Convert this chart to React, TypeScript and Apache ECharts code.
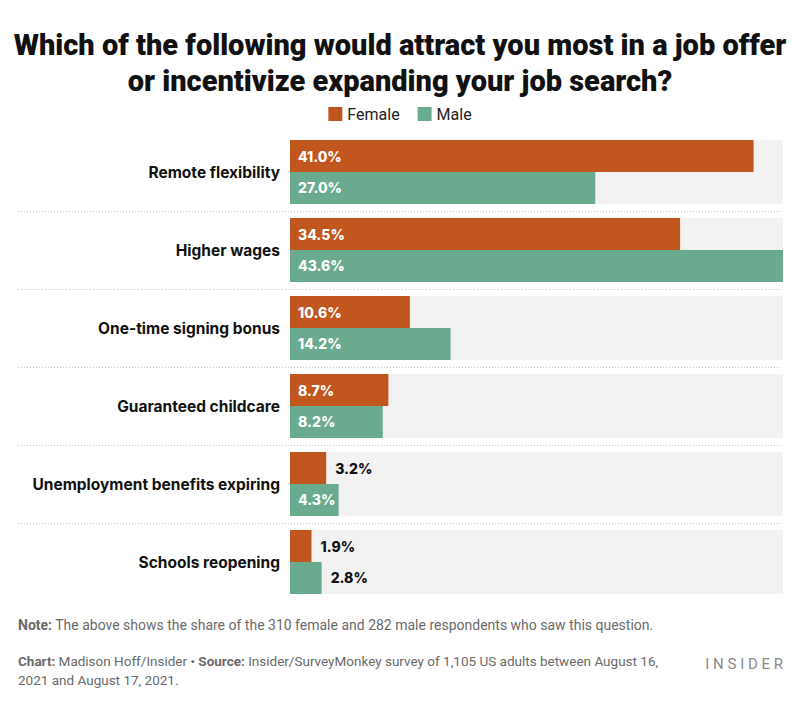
import React, { useEffect, useRef } from "react";
import * as echarts from "echarts";

const categories = [
  "Remote flexibility",
  "Higher wages",
  "One-time signing bonus",
  "Guaranteed childcare",
  "Unemployment benefits expiring",
  "Schools reopening",
];
const femaleValues = [41.0, 34.5, 10.6, 8.7, 3.2, 1.9];
const maleValues = [27.0, 43.6, 14.2, 8.2, 4.3, 2.8];
const seriesNames = ["Female", "Male"];
const titleText =
  "Which of the following would attract you most in a job offer\nor incentivize expanding your job search?";
const noteText =
  "The above shows the share of the 310 female and 282 male respondents who saw this question.";
const chartCredit = "Madison Hoff/Insider";
const sourceLine1 = "Insider/SurveyMonkey survey of 1,105 US adults between August 16,";
const sourceLine2 = "2021 and August 17, 2021.";

const FEMALE = "#c1561f";
const MALE = "#6aaa8e";
const BG = "#f2f2f2";

function makeData(values: number[]) {
  return values.map((v) => {
    const inside = v >= 4;
    return {
      value: v,
      label: inside
        ? { position: "insideLeft", color: "#ffffff", distance: 8 }
        : { position: "right", color: "#111111", distance: 9 },
    };
  });
}

export default function App() {
  const ref = useRef<HTMLDivElement>(null);
  useEffect(() => {
    if (!ref.current) return;
    document.body.style.margin = "0";
    const chart = echarts.init(ref.current, null, { renderer: "svg" });
    const labelCommon = {
      show: true,
      formatter: (p: any) => p.value.toFixed(1) + "%",
      fontFamily: "Inter",
      fontWeight: 800,
      fontSize: 14,
    };
    chart.setOption({
      animation: false,
      backgroundColor: "#ffffff",
      title: {
        text: titleText,
        left: "center",
        top: 22,
        textStyle: {
          fontFamily: "Roboto",
          fontWeight: 900,
          fontSize: 29,
          lineHeight: 36,
          color: "#111111",
        },
      },
      legend: {
        top: 101,
        left: "center",
        icon: "rect",
        itemWidth: 14,
        itemHeight: 14,
        itemGap: 18,
        textStyle: { fontFamily: "Roboto", fontSize: 16, color: "#222" },
        data: seriesNames,
      },
      grid: { left: 290, right: 17, top: 133, height: 468 },
      xAxis: { type: "value", min: 0, max: 43.6, show: false },
      yAxis: {
        type: "category",
        data: categories,
        inverse: true,
        axisLine: { show: false },
        axisTick: { show: false },
        axisLabel: {
          margin: 10,
          fontFamily: "Inter",
          fontWeight: 700,
          fontSize: 15.5,
          color: "#111111",
        },
      },
      series: [
        {
          name: seriesNames[0],
          type: "bar",
          data: makeData(femaleValues),
          itemStyle: { color: FEMALE },
          barGap: "0%",
          barCategoryGap: "18%",
          showBackground: true,
          backgroundStyle: { color: BG },
          label: labelCommon,
        },
        {
          name: seriesNames[1],
          type: "bar",
          data: makeData(maleValues),
          itemStyle: { color: MALE },
          barGap: "0%",
          barCategoryGap: "18%",
          showBackground: true,
          backgroundStyle: { color: BG },
          label: labelCommon,
        },
      ],
    });

    const seps: any[] = [];
    for (let i = 0; i < categories.length - 1; i++) {
      const a = chart.convertToPixel({ yAxisIndex: 0 }, categories[i]) as number;
      const b = chart.convertToPixel({ yAxisIndex: 0 }, categories[i + 1]) as number;
      const y = Math.round((a + b) / 2) + 0.5;
      seps.push({
        type: "line",
        shape: { x1: 18, y1: y, x2: 783, y2: y },
        style: { stroke: "#c8c8c8", lineWidth: 1, lineDash: [1, 2] },
      });
    }
    const footFont = "Roboto";
    seps.push(
      {
        type: "text",
        left: 18,
        top: 618,
        style: {
          text: "{b|Note:} " + noteText,
          fontFamily: footFont,
          fontSize: 14,
          fill: "#6a6a6a",
          rich: { b: { fontWeight: 700, fontFamily: footFont, fontSize: 14, fill: "#6a6a6a" } },
        },
      },
      {
        type: "text",
        left: 18,
        top: 651,
        style: {
          text:
            "{b|Chart:} " + chartCredit + " \u2022 {b|Source:} " + sourceLine1 + "\n" + sourceLine2,
          fontFamily: footFont,
          fontSize: 13.5,
          lineHeight: 19,
          fill: "#6a6a6a",
          rich: { b: { fontWeight: 700, fontFamily: footFont, fontSize: 13.5, fill: "#6a6a6a" } },
        },
      },
      {
        type: "text",
        right: 17,
        top: 656,
        style: {
          text: "I N S I D E R",
          fontFamily: "Roboto",
          fontSize: 15,
          fill: "#8a8a8a",
        },
      }
    );
    chart.setOption({ graphic: seps });
    return () => chart.dispose();
  }, []);
  return (
    <div
      ref={ref}
      style={{ position: "absolute", left: 0, top: 0, width: 800, height: 703 }}
    />
  );
}
